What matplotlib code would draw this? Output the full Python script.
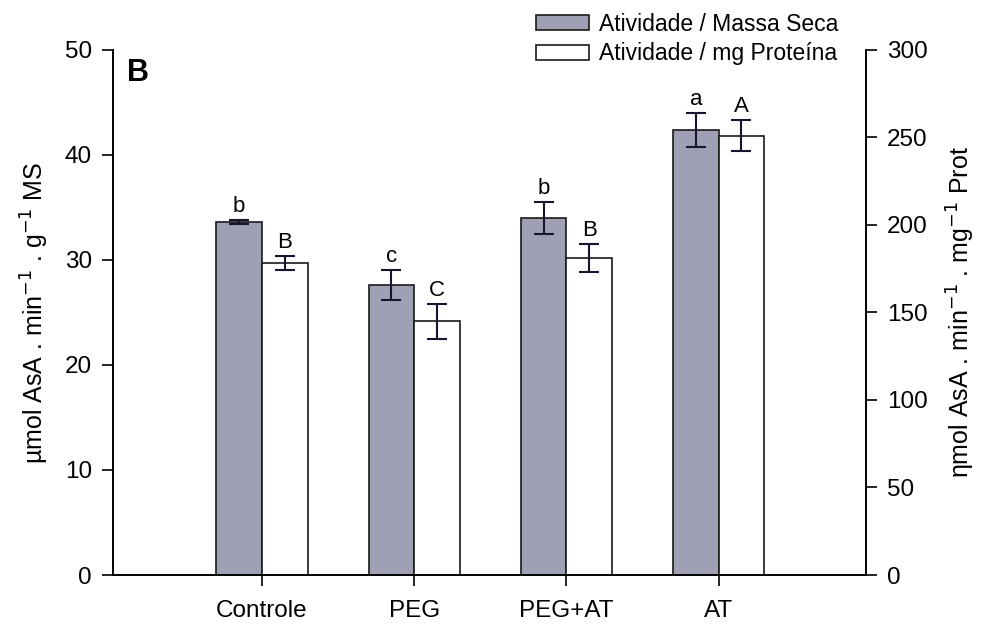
import matplotlib
matplotlib.use("Agg")
import matplotlib.pyplot as plt
import numpy as np

plt.rcParams['font.family'] = ['Liberation Sans', 'DejaVu Sans']
plt.rcParams['mathtext.fontset'] = 'custom'
plt.rcParams['mathtext.rm'] = 'Liberation Sans'

categories = ["Controle", "PEG", "PEG+AT", "AT"]
massa_seca = [33.6, 27.6, 34.0, 42.4]          # left axis
massa_seca_err = [0.2, 1.4, 1.5, 1.6]
proteina = [178, 145, 181, 251]                 # right axis
proteina_err = [4, 10, 8, 9]
letters_ms = ["b", "c", "b", "a"]
letters_prot = ["B", "C", "B", "A"]

fig = plt.figure(figsize=(9.9, 6.24), dpi=100)
ax = fig.add_axes([0.114, 0.0785, 0.761, 0.8415])
ax2 = ax.twinx()

x = np.arange(len(categories))
w = 0.3
gray = "#a0a0b5"
edge = "#1a1a1a"

ax.bar(x - w/2, massa_seca, w, color=gray, edgecolor=edge, linewidth=1.2,
       label="Atividade / Massa Seca", zorder=2)
ax.errorbar(x - w/2, massa_seca, yerr=massa_seca_err, fmt="none", ecolor="#151530",
            elinewidth=1.5, capsize=7, capthick=1.5, zorder=3)
ax2.bar(x + w/2, proteina, w, color="white", edgecolor=edge, linewidth=1.2,
        label="Atividade / mg Proteína", zorder=2)
ax2.errorbar(x + w/2, proteina, yerr=proteina_err, fmt="none", ecolor="#151530",
             elinewidth=1.5, capsize=7, capthick=1.5, zorder=3)

for xi, v, e, t in zip(x, massa_seca, massa_seca_err, letters_ms):
    ax.text(xi - w/2, v + e + 0.3, t, ha="center", va="bottom", fontsize=16)
for xi, v, e, t in zip(x, proteina, proteina_err, letters_prot):
    ax2.text(xi + w/2, v + e + 1.8, t, ha="center", va="bottom", fontsize=16)

ax.set_xlim(-0.98, 3.97)
ax.set_ylim(0, 50)
ax2.set_ylim(0, 300)
ax.set_yticks([0, 10, 20, 30, 40, 50])
ax2.set_yticks([0, 50, 100, 150, 200, 250, 300])
ax.set_xticks(x)
ax.set_xticklabels(categories)

for a in (ax, ax2):
    a.spines["top"].set_visible(False)
    for s in a.spines.values():
        s.set_linewidth(1.2)
    a.tick_params(direction="out", length=8, width=1.2, labelsize=17.5, pad=7)
ax.tick_params(axis="x", labelsize=17.5, pad=10)

ax.set_ylabel("µmol AsA . min$^{\\mathsf{-1}}$ . g$^{\\mathsf{-1}}$ MS", fontsize=18, labelpad=10)
ax2.set_ylabel("ηmol AsA . min$^{\\mathsf{-1}}$ . mg$^{\\mathsf{-1}}$ Prot", fontsize=18, labelpad=12,
               rotation=90)

ax.text(0.019, 0.94, "B", transform=ax.transAxes, fontsize=22, fontweight="bold")

h1, l1 = ax.get_legend_handles_labels()
h2, l2 = ax2.get_legend_handles_labels()
fig.legend(h1 + h2, l1 + l2, loc="upper left", bbox_to_anchor=(0.529, 1.0),
           frameon=False, fontsize=16.5, handlelength=2.3, handleheight=0.65,
           labelspacing=0.3, handletextpad=0.45, borderaxespad=0.15)

fig.savefig("out.png", dpi=100)
